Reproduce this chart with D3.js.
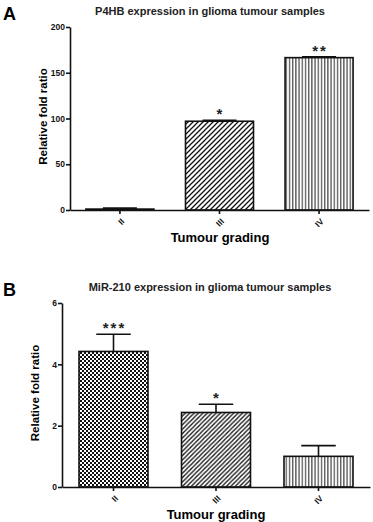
<!DOCTYPE html>
<html>
<head>
<meta charset="utf-8">
<script src="https://cdn.jsdelivr.net/npm/d3@7"></script>
<style>
  body { margin: 0; background: #fff; }
  svg { display: block; font-family: "Liberation Sans", Arial, sans-serif; font-weight: bold; }
  .axis path, .axis line { stroke: #111; stroke-width: 1.6; }
  .axis text { font-size: 8.5px; font-weight: bold; fill: #111; }
</style>
</head>
<body>
<div id="chart"></div>
<script>
// tumour grades shared by both panels
var grades = ["II", "III", "IV"];

// panel A: P4HB
var p4hbMean = [1, 97, 166.5];
var p4hbErr = [1, 1, 1];
var p4hbStars = ["", "*", "**"];
var p4hbTicks = [0, 50, 100, 150, 200];

// panel B: MiR-210
var mirMean = [4.42, 2.43, 1.0];
var mirErr = [0.56, 0.27, 0.35];
var mirStars = ["***", "*", ""];
var mirTicks = [0, 2, 4, 6];

function init() {

    var width = 373;
    var height = 522;

    var svg = d3.select("#chart")
        .append("svg")
        .attr("width", width)
        .attr("height", height);

    // fill patterns
    var defs = svg.append("defs");

    var checker = defs.append("pattern")
        .attr("id", "checker")
        .attr("patternUnits", "userSpaceOnUse")
        .attr("width", 4).attr("height", 4);
    checker.append("rect").attr("width", 4).attr("height", 4).attr("fill", "#fff");
    checker.append("rect").attr("width", 2).attr("height", 2).attr("fill", "#111");
    checker.append("rect").attr("x", 2).attr("y", 2).attr("width", 2).attr("height", 2).attr("fill", "#111");

    function diag(id, s) {
        var p = defs.append("pattern")
            .attr("id", id)
            .attr("patternUnits", "userSpaceOnUse")
            .attr("width", s).attr("height", s);
        p.append("rect").attr("width", s).attr("height", s).attr("fill", "#fff");
        p.append("path")
            .attr("d", "M-1," + (s + 1) + " L" + (s + 1) + ",-1 M" + (s - 1) + "," + (s + 1) + " L" + (s + 1) + "," + (s - 1) + " M-1,1 L1,-1")
            .attr("stroke", "#111")
            .attr("stroke-width", 1.3);
    }
    diag("diagA", 5);
    diag("diagB", 4.4);

    var vert = defs.append("pattern")
        .attr("id", "vert")
        .attr("patternUnits", "userSpaceOnUse")
        .attr("width", 3.2).attr("height", 4);
    vert.append("rect").attr("width", 3.2).attr("height", 4).attr("fill", "#fff");
    vert.append("rect").attr("x", 1).attr("width", 1).attr("height", 4).attr("fill", "#222");

    function drawPanel(cfg) {
        var g = svg.append("g");

        var x = d3.scaleBand()
            .domain(grades)
            .range([cfg.left, cfg.right])
            .paddingInner(cfg.padIn)
            .paddingOuter(cfg.padOut);

        var y = d3.scaleLinear()
            .domain([0, d3.max(cfg.ticks)])
            .range([cfg.bottom, cfg.top]);

        var rows = grades.map(function (d, i) {
            return { grade: d, mean: cfg.mean[i], err: cfg.err[i], stars: cfg.stars[i], fill: cfg.fills[i] };
        });

        // error bars (one sided, upwards)
        var eb = g.selectAll(".err")
            .data(rows)
            .enter()
            .append("g")
            .attr("stroke", "#111")
            .attr("stroke-width", 1.6);
        eb.append("line")
            .attr("x1", function (d) { return x(d.grade) + x.bandwidth() / 2; })
            .attr("x2", function (d) { return x(d.grade) + x.bandwidth() / 2; })
            .attr("y1", function (d) { return y(d.mean); })
            .attr("y2", function (d) { return y(d.mean + d.err); });
        eb.append("line")
            .attr("x1", function (d) { return x(d.grade) + x.bandwidth() / 4; })
            .attr("x2", function (d) { return x(d.grade) + x.bandwidth() * 3 / 4; })
            .attr("y1", function (d) { return y(d.mean + d.err); })
            .attr("y2", function (d) { return y(d.mean + d.err); });

        // bars
        g.selectAll(".bar")
            .data(rows)
            .enter()
            .append("rect")
            .attr("x", function (d) { return x(d.grade); })
            .attr("y", function (d) { return y(d.mean); })
            .attr("width", x.bandwidth())
            .attr("height", function (d) { return y(0) - y(d.mean); })
            .attr("fill", function (d) { return d.fill; })
            .attr("stroke", "#111")
            .attr("stroke-width", 1.6);

        // significance stars
        g.selectAll(".star")
            .data(rows)
            .enter()
            .append("text")
            .attr("x", function (d) { return x(d.grade) + x.bandwidth() / 2 + 1; })
            .attr("y", function (d) { return y(d.mean + d.err) - 1; })
            .attr("text-anchor", "middle")
            .style("font-size", "15px")
            .style("letter-spacing", "2px")
            .attr("fill", "#222")
            .text(function (d) { return d.stars; });

        // axes
        g.append("g")
            .attr("class", "axis")
            .attr("transform", "translate(" + cfg.left + ",0)")
            .call(d3.axisLeft(y).tickValues(cfg.ticks).tickFormat(d3.format("d"))
                .tickSize(4).tickPadding(1).tickSizeOuter(0));

        var xa = g.append("g")
            .attr("class", "axis")
            .attr("transform", "translate(0," + cfg.bottom + ")")
            .call(d3.axisBottom(x).tickSize(4).tickSizeOuter(0));
        xa.selectAll("text")
            .attr("x", 0)
            .attr("y", 0)
            .attr("dy", "0.35em")
            .attr("text-anchor", "end")
            .attr("transform", "translate(3,10) rotate(-45)");

        // titles
        g.append("text")
            .attr("x", 3)
            .attr("y", cfg.top - 7)
            .style("font-size", "18px")
            .text(cfg.letter);

        g.append("text")
            .attr("x", cfg.titleX)
            .attr("y", cfg.top - 12)
            .attr("text-anchor", "middle")
            .style("font-size", "11px")
            .attr("fill", "#222")
            .text(cfg.title);

        g.append("text")
            .attr("transform", "translate(" + (cfg.left - 23) + "," + ((cfg.top + cfg.bottom) / 2 - 2) + ") rotate(-90)")
            .attr("text-anchor", "middle")
            .style("font-size", "11.5px")
            .text("Relative fold ratio");

        g.append("text")
            .attr("x", cfg.xTitleX)
            .attr("y", cfg.bottom + 32)
            .attr("text-anchor", "middle")
            .style("font-size", "13px")
            .text("Tumour grading");
    }

    drawPanel({
        letter: "A", title: "P4HB expression in glioma tumour samples",
        mean: p4hbMean, err: p4hbErr, stars: p4hbStars, ticks: p4hbTicks,
        fills: ["#fff", "url(#diagA)", "url(#vert)"],
        left: 70, right: 369, top: 27, bottom: 210,
        padIn: 0.317, padOut: 0.16, titleX: 210, xTitleX: 220
    });

    drawPanel({
        letter: "B", title: "MiR-210 expression in glioma tumour samples",
        mean: mirMean, err: mirErr, stars: mirStars, ticks: mirTicks,
        fills: ["url(#checker)", "url(#diagB)", "url(#vert)"],
        left: 62, right: 370, top: 303, bottom: 487,
        padIn: 0.327, padOut: 0.166, titleX: 210, xTitleX: 216
    });
}

window.onload = init;
</script>
</body>
</html>
